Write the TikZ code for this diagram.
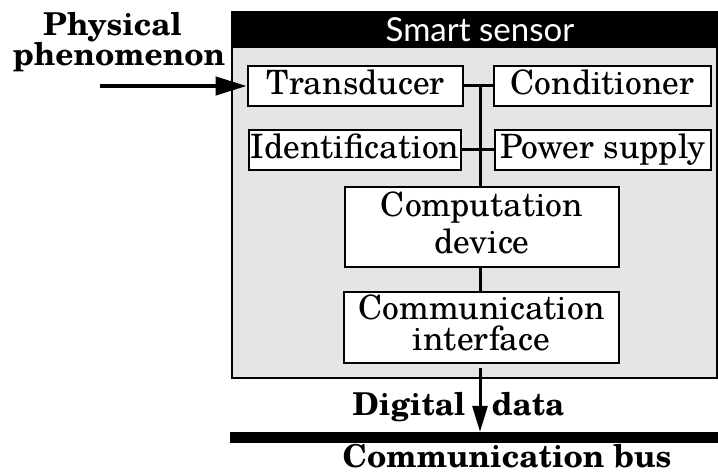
\documentclass[tikz,border=0pt]{standalone}
\usepackage{fontspec}
\setmainfont{texgyreschola}[Extension=.otf, UprightFont=*-regular, BoldFont=*-bold]
\newfontfamily\hdrfont{Lato}
\usetikzlibrary{arrows.meta}
\definecolor{panel}{RGB}{229,229,229}
\begin{document}
\begin{tikzpicture}[x=1pt,y=-1pt,
  box/.style={draw=black, line width=2.6pt, fill=white, inner sep=0pt,
    font=\fontsize{33.5}{37}\selectfont, align=center},
  onebox/.style={box, text height=24pt, text depth=6pt, minimum height=40pt},
  wire/.style={line width=3pt},
  lbl/.style={font=\fontsize{31.5}{27}\selectfont\bfseries, inner sep=0pt, align=center}]
\useasboundingbox (0,0) rectangle (718,473);
% sensor frame and header
\node[draw=black, line width=2.6pt, fill=panel, minimum width=485pt, minimum height=366pt, inner sep=0pt] (sensor) at (474.5,195) {};
\node[fill=black, text=white, minimum width=485pt, minimum height=36pt, inner sep=0pt,
  font=\hdrfont\fontsize{33}{34}\selectfont] (hdr) at (474.5,30) {\hspace*{11pt}Smart sensor};
% blocks
\node[onebox, minimum width=215pt] (trans) at (355.5,86) {Transducer};
\node[onebox, minimum width=217pt] (cond) at (602.5,86) {Conditioner};
\node[onebox, minimum width=212pt] (ident) at (355,150) {Identification};
\node[onebox, minimum width=216pt] (power) at (603,150) {Power supply};
\node[box, minimum width=274pt, minimum height=80pt] (comp) at (482,227) {Computation\\device\rule[-8pt]{0pt}{8pt}};
\node[box, minimum width=275pt, minimum height=71pt, font=\fontsize{33.5}{31}\selectfont] (commi) at (481.5,327.5) {Communication\\interface\rule[-10pt]{0pt}{10pt}};
% internal bus
\coordinate (bt) at (480,86);
\draw[wire] (trans.east) -- (cond.west);
\draw[wire] (ident.east) -- (power.west);
\draw[wire] (bt) -- (bt |- comp.north);
\draw[wire] (comp.south -| bt) -- (commi.north -| bt);
% communication bus
\node[fill=black, minimum width=488pt, minimum height=11pt, inner sep=0pt] (bus) at (474,437.5) {};
\draw[wire, -{Triangle[length=26pt,width=15pt]}] ([yshift=-4pt]commi.south -| bt) -- (bus.north -| bt);
% input
\coordinate (src) at (100,86);
\draw[line width=4pt, -{Triangle[length=31pt,width=18pt]}] (src) -- (trans.west);
% labels
\node[lbl] (phys) at (119,42) {Physical\hspace*{13pt}\\phenomenon};
\node[lbl] (dig) at (409,407) {Digital};
\node[lbl] (dat) at (528,404) {data};
\node[lbl] (busl) at (507,456) {Communication bus};
\end{tikzpicture}
\end{document}
